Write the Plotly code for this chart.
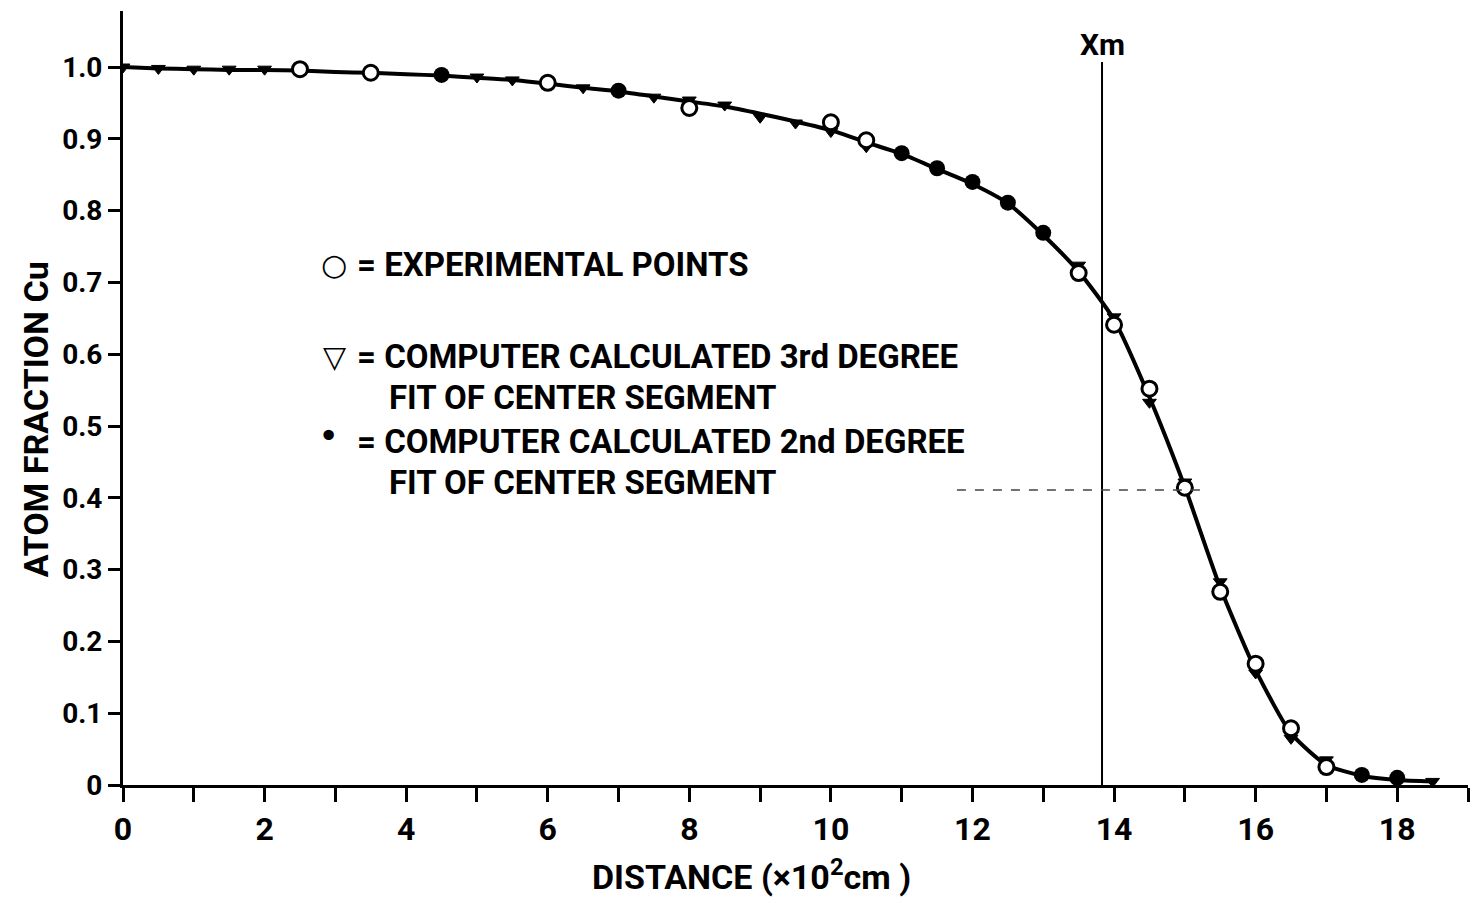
import plotly.graph_objects as go

# ---- data ----
curve_x = [0, 0.5, 1, 1.5, 2, 2.5, 3, 3.5, 4, 4.5, 5, 5.5, 6, 6.5, 7, 7.5, 8, 8.5, 9, 9.5,
           10, 10.5, 11, 11.5, 12, 12.5, 13, 13.5, 14, 14.5, 15, 15.5, 16, 16.5, 17, 17.5,
           18, 18.5]
curve_y = [1.0, 0.998, 0.997, 0.996, 0.996, 0.995, 0.993, 0.992, 0.990, 0.988, 0.985, 0.982,
           0.977, 0.971, 0.966, 0.959, 0.952, 0.945, 0.935, 0.924, 0.912, 0.895, 0.879, 0.858,
           0.837, 0.810, 0.766, 0.715, 0.648, 0.540, 0.415, 0.275, 0.160, 0.072, 0.028, 0.013,
           0.007, 0.005]

exp_x = [2.5, 3.5, 6, 8, 10, 10.5, 13.5, 14, 14.5, 15, 15.5, 16, 16.5, 17]
exp_y = [0.997, 0.992, 0.978, 0.943, 0.923, 0.898, 0.713, 0.641, 0.552, 0.414, 0.269, 0.169,
         0.079, 0.025]

fit3_x = [0, 0.5, 1, 1.5, 2, 5, 5.5, 6.5, 7.5, 8, 8.5, 9, 9.5, 10, 10.5, 13.5, 14, 14.5, 15,
          15.5, 16, 16.5, 17, 18.5]
fit3_y = [1.0, 0.998, 0.997, 0.997, 0.997, 0.986, 0.982, 0.971, 0.958, 0.954, 0.947, 0.930,
          0.922, 0.910, 0.889, 0.724, 0.652, 0.533, 0.422, 0.283, 0.156, 0.065, 0.035, 0.005]

fit2_x = [4.5, 7, 11, 11.5, 12, 12.5, 13, 17.5, 18]
fit2_y = [0.989, 0.967, 0.880, 0.859, 0.840, 0.811, 0.769, 0.014, 0.010]

xm_value = 13.83
xm_level = 0.411
xm_level_span = [11.78, 15.28]

x_major_ticks = [0, 2, 4, 6, 8, 10, 12, 14, 16, 18]
x_ticktext = ["0", "2", "4", "6", "8", "10", "12", "14", "16", "18"]
y_ticks = [i / 10 for i in range(0, 11)]
y_ticktext = ["0", "0.1", "0.2", "0.3", "0.4", "0.5", "0.6", "0.7", "0.8", "0.9", "1.0"]

legend_lines = [
    ("○", "= EXPERIMENTAL POINTS"),
    ("▽", "= COMPUTER CALCULATED 3rd DEGREE"),
    (None, "FIT OF CENTER SEGMENT"),
    ("•", "= COMPUTER CALCULATED 2nd DEGREE"),
    (None, "FIT OF CENTER SEGMENT"),
]

FONT = "Roboto, Liberation Sans, sans-serif"

fig = go.Figure()

fig.add_trace(go.Scatter(x=curve_x, y=curve_y, mode="lines",
                         line=dict(color="black", width=4, shape="spline", smoothing=0.6),
                         hoverinfo="skip", showlegend=False))
fig.add_trace(go.Scatter(x=fit3_x, y=fit3_y, mode="markers",
                         marker=dict(symbol="triangle-down", size=12, color="black",
                                     line=dict(color="black", width=1)),
                         showlegend=False))
fig.add_trace(go.Scatter(x=exp_x, y=exp_y, mode="markers",
                         marker=dict(symbol="circle", size=15, color="white",
                                     line=dict(color="black", width=3)),
                         showlegend=False))
fig.add_trace(go.Scatter(x=fit2_x, y=fit2_y, mode="markers",
                         marker=dict(symbol="circle", size=16, color="black"),
                         showlegend=False))

# Xm vertical line and level line
fig.add_shape(type="line", x0=xm_value, x1=xm_value, y0=0, y1=1.007,
              xref="x", yref="y", line=dict(color="black", width=2))
fig.add_shape(type="line", x0=xm_level_span[0], x1=xm_level_span[1], y0=xm_level, y1=xm_level,
              xref="x", yref="y", line=dict(color="#444", width=1.5, dash="dash"))
fig.add_annotation(x=xm_value, y=1.031, xref="x", yref="y", text="<b>Xm</b>",
                   showarrow=False, font=dict(family=FONT, size=30, color="black"))

# legend as text
txt_x = 0.1725
cont_x = 0.1963
ys = [0.672, 0.553, 0.501, 0.444, 0.391]
for (sym, txt), yy in zip(legend_lines, ys):
    if sym is not None:
        is_dot = sym == "•"
        fig.add_annotation(x=0.153 if is_dot else 0.157, y=yy + 0.008 if is_dot else yy,
                           xref="paper", yref="paper",
                           text=sym, showarrow=False, xanchor="center", yanchor="middle",
                           font=dict(family="DejaVu Sans", size=36 if is_dot else 30,
                                     color="black"))
        fig.add_annotation(x=txt_x, y=yy, xref="paper", yref="paper", text="<b>" + txt + "</b>",
                           showarrow=False, xanchor="left", yanchor="middle",
                           font=dict(family=FONT, size=33, color="black"))
    else:
        fig.add_annotation(x=cont_x, y=yy, xref="paper", yref="paper", text="<b>" + txt + "</b>",
                           showarrow=False, xanchor="left", yanchor="middle",
                           font=dict(family=FONT, size=33, color="black"))

# axis titles (placed as in the reference)
fig.add_annotation(x=0.467, y=-0.085, xref="paper", yref="paper",
                   text="<b>DISTANCE (×10<sup>2</sup>cm )</b>", showarrow=False,
                   xanchor="center", yanchor="top",
                   font=dict(family=FONT, size=34, color="black"))
fig.add_annotation(x=-0.065, y=0.472, xref="paper", yref="paper",
                   text="<b>ATOM FRACTION Cu</b>", showarrow=False, textangle=-90,
                   xanchor="center", yanchor="middle",
                   font=dict(family=FONT, size=34, color="black"))

fig.update_layout(
    width=1477, height=903,
    margin=dict(l=123, r=9, t=11, b=118),
    paper_bgcolor="white", plot_bgcolor="white",
    showlegend=False,
    font=dict(family=FONT, color="black"),
    xaxis=dict(range=[0, 19], showgrid=False, zeroline=False, showline=True,
               linecolor="black", linewidth=3, ticks="outside", ticklen=14, tickwidth=3,
               tickcolor="black", tickvals=x_major_ticks, ticktext=x_ticktext,
               minor=dict(ticks="outside", ticklen=14, tickwidth=3, tickcolor="black",
                          dtick=1, tick0=0, showgrid=False),
               tickfont=dict(family=FONT, size=32, color="black", weight="bold")),
    yaxis=dict(range=[0, 1.078], showgrid=False, zeroline=False, showline=True,
               linecolor="black", linewidth=3, ticks="outside", ticklen=12, tickwidth=3,
               tickcolor="black", tickvals=y_ticks, ticktext=y_ticktext,
               tickfont=dict(family=FONT, size=28, color="black", weight="bold")),
)

fig.write_html("out.html")
